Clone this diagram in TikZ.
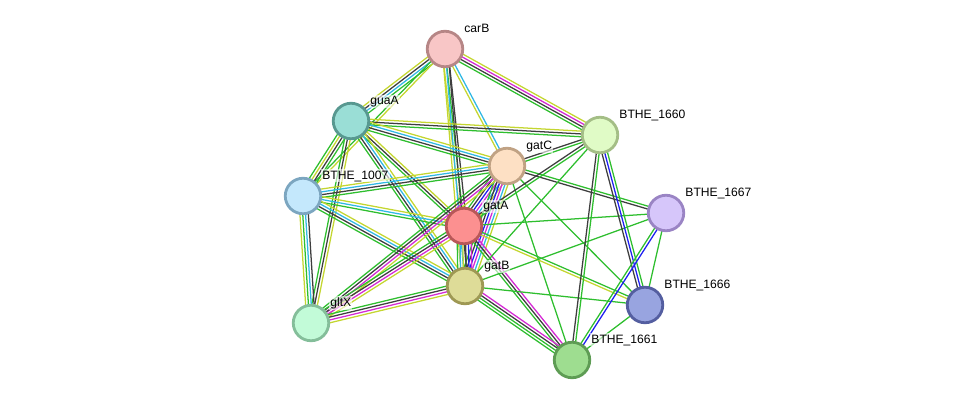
\documentclass[tikz,border=0pt]{standalone}
\usepackage{fontspec}
\setmainfont{Liberation Sans}
\usetikzlibrary{calc}

\pgfdeclarelayer{edges}
\pgfsetlayers{edges,main}

% evidence colours
\definecolor{eg}{RGB}{46,190,46}
\definecolor{ey}{RGB}{196,214,48}
\definecolor{ek}{RGB}{62,62,62}
\definecolor{ec}{RGB}{48,184,228}
\definecolor{em}{RGB}{212,40,212}
\definecolor{eb}{RGB}{30,30,240}
% node colours
\definecolor{carBf}{RGB}{248,198,198}\definecolor{carBd}{RGB}{182,134,134}
\definecolor{guaAf}{RGB}{154,222,214}\definecolor{guaAd}{RGB}{88,152,144}
\definecolor{bsixtyf}{RGB}{224,251,198}\definecolor{bsixtyd}{RGB}{164,190,134}
\definecolor{gatCf}{RGB}{253,224,196}\definecolor{gatCd}{RGB}{192,162,132}
\definecolor{bsevenf}{RGB}{196,232,252}\definecolor{bsevend}{RGB}{124,166,192}
\definecolor{bsixsevenf}{RGB}{214,198,250}\definecolor{bsixsevend}{RGB}{154,132,196}
\definecolor{gatAf}{RGB}{252,144,144}\definecolor{gatAd}{RGB}{184,88,88}
\definecolor{gatBf}{RGB}{222,220,152}\definecolor{gatBd}{RGB}{158,152,84}
\definecolor{bsixsixf}{RGB}{152,164,224}\definecolor{bsixsixd}{RGB}{84,94,160}
\definecolor{gltXf}{RGB}{194,251,216}\definecolor{gltXd}{RGB}{132,190,154}
\definecolor{bsixonef}{RGB}{158,221,144}\definecolor{bsixoned}{RGB}{94,156,84}

\tikzset{
  prot/.style={circle, draw, line width=1.6pt, minimum size=0.71cm, inner sep=0pt},
  plabel/.style={anchor=base west, font=\fontsize{6.9}{8}\selectfont, inner sep=0.6pt,
    fill=white, fill opacity=0.6, text opacity=1},
  link/.style={line width=0.72pt},
}

% bundle of parallel lines between two nodes
\newcount\ecount
\newcommand{\pedge}[3]{%
  \global\ecount=0
  \foreach \col in {#3}{\global\advance\ecount by 1}
  \foreach \col [count=\i] in {#3}{
    \pgfmathsetmacro{\off}{(\i-(\the\ecount+1)/2)*1.6}
    \draw[link,\col] ($(#1.center)!\off pt!90:(#2.center)$) -- ($(#2.center)!\off pt!-90:(#1.center)$);
  }}

\begin{document}
\begin{tikzpicture}[x=0.02cm, y=-0.02cm]
   \useasboundingbox (0,0) rectangle (976,406);
   % proteins
   \foreach \n/\x/\y/\t in {carB/445/49/carB, guaA/351/121/guaA, bsixty/600/135/BTHE\_1660,
      gatC/507/166/gatC, bseven/303/196/BTHE\_1007, bsixseven/666/213/BTHE\_1667,
      gatA/464/226/gatA, gatB/465/286/gatB, bsixsix/645/305/BTHE\_1666,
      gltX/311/323/gltX, bsixone/572/360/BTHE\_1661} {
      \node[prot, fill=\n f, draw=\n d] (\n) at (\x,\y) {};
      \node[plabel] (\n-l) at (\x+18,\y-17) {\t};
   }

   % associations
   \begin{pgfonlayer}{edges}
      \pedge{carB}{guaA}{ey,ek,ec,eg}
      \pedge{carB}{bseven}{eg,ey}
      \pedge{carB}{gatA}{ey,eg,ek}
      \pedge{carB}{gatB}{ey,ec,ek}
      \pedge{carB}{gatC}{ey,ec}
      \pedge{carB}{bsixty}{eg,ek,em,ey}
      \pedge{guaA}{bsixty}{eg,ek,ey}
      \pedge{guaA}{gatC}{eg,ek,ec,ey}
      \pedge{guaA}{bseven}{eg,ey,ek,eg}
      \pedge{guaA}{gatA}{eg,ek,ey}
      \pedge{guaA}{gatB}{eg,ek,ec,ey}
      \pedge{guaA}{gltX}{eg,ek,ey}
      \pedge{bseven}{gatC}{eg,ek,ec,ey}
      \pedge{bseven}{gatA}{eg,ec,ey}
      \pedge{bseven}{gatB}{eg,ek,ec,ey}
      \pedge{bseven}{gltX}{ey,eg,ec,ek}
      \pedge{gatC}{bsixty}{eg,ek}
      \pedge{gatC}{bsixseven}{ek,eg}
      \pedge{gatC}{bsixsix}{eg}
      \pedge{gatC}{bsixone}{eg}
      \pedge{gatC}{gatA}{eg,ek,eb,em,ec,ey}
      \pedge{gatC}{gatB}{eg,ek,eb,em,ec,ey}
      \pedge{gatC}{gltX}{eg,ek,em,ey}
      \pedge{gatA}{gatB}{eg,ec,ey,ek,eb,em}
      \pedge{gatA}{bsixseven}{eg}
      \pedge{gatA}{bsixsix}{ey,eg}
      \pedge{gatA}{bsixone}{eg,ek,em}
      \pedge{gatA}{gltX}{eg,ek,em,ey}
      \pedge{gatA}{bsixty}{eg,ek}
      \pedge{gatB}{bsixone}{eg,eg,ek,em}
      \pedge{gatB}{bsixsix}{eg}
      \pedge{gatB}{gltX}{eg,ek,em,ey}
      \pedge{gatB}{bsixty}{eg}
      \pedge{gatB}{bsixseven}{eg}
      \pedge{bsixty}{bsixsix}{ek,eb,eg}
      \pedge{bsixty}{bsixone}{ek,eg}
      \pedge{bsixseven}{bsixone}{eg,eb}
      \pedge{bsixseven}{bsixsix}{eg}
      \pedge{bsixsix}{bsixone}{eg}
   \end{pgfonlayer}
\end{tikzpicture}
\end{document}
